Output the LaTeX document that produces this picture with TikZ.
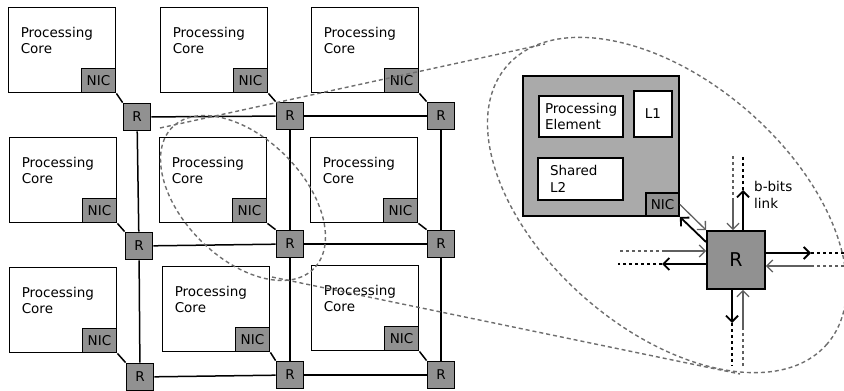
\documentclass[tikz,border=0pt]{standalone}
\usepackage{fontspec}
\setmainfont{DejaVu Sans}
\usepackage{xcolor}
\usepackage{tikz}
\usetikzlibrary{positioning, arrows.meta, calc}
\definecolor{blockgray}{RGB}{145,145,145}
\definecolor{tilegray}{RGB}{170,170,170}
\definecolor{linkgray}{RGB}{95,95,95}
\definecolor{zoomgray}{RGB}{110,110,110}

\begin{document}
\begin{tikzpicture}[
  x=1pt, y=-1pt,
  font=\fontsize{13.5pt}{16.5pt}\selectfont,
  corelbl/.style={anchor=north west, align=left, inner sep=0pt, xshift=13pt, yshift=-20pt},
  core/.style={draw, line width=1.8pt, minimum width=107pt, minimum height=85pt, inner sep=0pt,
    label={[corelbl]north west:Processing\\Core}},
  nic/.style={draw, line width=1.8pt, fill=blockgray, minimum width=34pt, minimum height=24pt, inner sep=0pt, anchor=south east},
  rtr/.style={draw, line width=1.8pt, fill=blockgray, minimum size=27pt, inner sep=0pt},
  link/.style={line width=1.5pt},
  tile/.style={draw, line width=1.8pt, fill=tilegray, minimum width=156pt, minimum height=140pt},
  part/.style={draw, line width=1.8pt, fill=white, align=left, inner ysep=0pt},
  blk/.style={line width=1.8pt, -{Straight Barb[length=6pt, width=12pt]}},
  gry/.style={draw=linkgray, line width=1.3pt, -{Straight Barb[length=6pt, width=12pt]}},
  blkd/.style={line width=1.8pt, dash pattern=on 3pt off 3pt},
  gryd/.style={draw=linkgray, line width=1.3pt, dash pattern=on 3pt off 3pt},
  zoom/.style={draw=zoomgray, line width=1.4pt, dash pattern=on 4pt off 3pt}
]
\useasboundingbox (0,0) rectangle (844,391);

% 3x3 mesh
\node[core] (c1) at (62,50) {};
\node[core] (c2) at (214,50) {};
\node[core] (c3) at (365,50) {};
\node[core] (c4) at (63,180) {};
\node[core] (c5) at (213,180) {};
\node[core] (c6) at (364,180) {};
\node[core] (c7) at (63,310) {};
\node[core] (c8) at (216,309) {};
\node[core] (c9) at (365,308) {};

\node[nic] (n1) at (c1.south east) {NIC};
\node[nic] (n2) at (c2.south east) {NIC};
\node[nic] (n3) at (c3.south east) {NIC};
\node[nic] (n4) at (c4.south east) {NIC};
\node[nic] (n5) at (c5.south east) {NIC};
\node[nic] (n6) at (c6.south east) {NIC};
\node[nic] (n7) at (c7.south east) {NIC};
\node[nic] (n8) at (c8.south east) {NIC};
\node[nic] (n9) at (c9.south east) {NIC};

\node[rtr] (r1) at (137,117) {R};
\node[rtr] (r2) at (290,116) {R};
\node[rtr] (r3) at (441,116) {R};
\node[rtr] (r4) at (139,246) {R};
\node[rtr] (r5) at (290,244) {R};
\node[rtr] (r6) at (441,244) {R};
\node[rtr] (r7) at (140,377) {R};
\node[rtr] (r8) at (290,375) {R};
\node[rtr] (r9) at (441,375) {R};

\draw[link] (n1.south east) -- (r1.north west);
\draw[link] (n2.south east) -- (r2.north west);
\draw[link] (n3.south east) -- (r3.north west);
\draw[link] (n4.south east) -- (r4.north west);
\draw[link] (n5.south east) -- (r5.north west);
\draw[link] (n6.south east) -- (r6.north west);
\draw[link] (n7.south east) -- (r7.north west);
\draw[link] (n8.south east) -- (r8.north west);
\draw[link] (n9.south east) -- (r9.north west);

\draw[link] (r1) -- (r2);
\draw[link] (r2) -- (r3);
\draw[link] (r4) -- (r5);
\draw[link] (r5) -- (r6);
\draw[link] (r7) -- (r8);
\draw[link] (r8) -- (r9);
\draw[link] (r1) -- (r4);
\draw[link] (r4) -- (r7);
\draw[link] (r2) -- (r5);
\draw[link] (r5) -- (r8);
\draw[link] (r3) -- (r6);
\draw[link] (r6) -- (r9);

% zoomed tile
\node[tile] (tile) at (601,146) {};
\node[part, text width=72pt, inner xsep=6pt, minimum height=41pt] (pe) at (581,116.5) {Processing\\Element};
\node[part, minimum width=38pt, minimum height=46pt, inner sep=0pt] (l1) at (653,114) {L1};
\node[part, text width=61pt, inner xsep=12pt, minimum height=42pt] (l2) at (580.5,179) {Shared\\L2};
\node[nic, minimum width=33pt, minimum height=23pt] (nic) at (tile.south east) {NIC};
\node[rtr, minimum size=58pt, font=\fontsize{19pt}{22pt}\selectfont] (rt) at (736,260) {R};

% link ends
\coordinate (t1) at (733,198);
\coordinate (t2) at (733,156);
\coordinate (t3) at (743,190);
\coordinate (t4) at (743,157);
\coordinate (e1) at (811,253);
\coordinate (e2) at (844,253);
\coordinate (e3) at (812,266);
\coordinate (e4) at (844,266);
\coordinate (w1) at (663,251);
\coordinate (w2) at (620,251);
\coordinate (w3) at (662,264);
\coordinate (w4) at (618,264);
\coordinate (s1) at (732,323);
\coordinate (s2) at (732,366);
\coordinate (s3) at (743,327);
\coordinate (s4) at (743,366);

\draw[gry] (t1) -- (t1 |- rt.north);
\draw[gryd] (t2) -- (t1);
\draw[blk] (t3 |- rt.north) -- (t3);
\draw[blkd] (t3) -- (t4);
\draw[blk] (rt.east |- e1) -- (e1);
\draw[blkd] (e1) -- (e2);
\draw[gry] (e3) -- (rt.east |- e3);
\draw[gryd] (e4) -- (e3);
\draw[gry] (w1) -- (rt.west |- w1);
\draw[gryd] (w2) -- (w1);
\draw[blk] (rt.west |- w3) -- (w3);
\draw[blkd] (w3) -- (w4);
\draw[blk] (rt.south -| s1) -- (s1);
\draw[blkd] (s1) -- (s2);
\draw[gry] (s3) -- (rt.south -| s3);
\draw[gryd] (s4) -- (s3);

\draw[gry] (nic.east) -- (rt.north west);
\draw[blk] ($(rt.north west)!0.2!(rt.south west)$) -- (nic.south east);

\node[anchor=west, align=left, inner sep=0pt] (bits) at (754,195) {b-bits\\link};

% zoom outline
\coordinate (za) at (160,128);
\coordinate (zb) at (545,44);
\coordinate (zc) at (272,277);
\coordinate (zd) at (740,374);
\draw[zoom, rotate around={-45:(243,198)}] (243,198) ellipse (100 and 60);
\draw[zoom, rotate around={-41:(667,205)}] (667,205) ellipse (212 and 124);
\draw[zoom] (za) -- (zb);
\draw[zoom] (zc) -- (zd);
\end{tikzpicture}
\end{document}
